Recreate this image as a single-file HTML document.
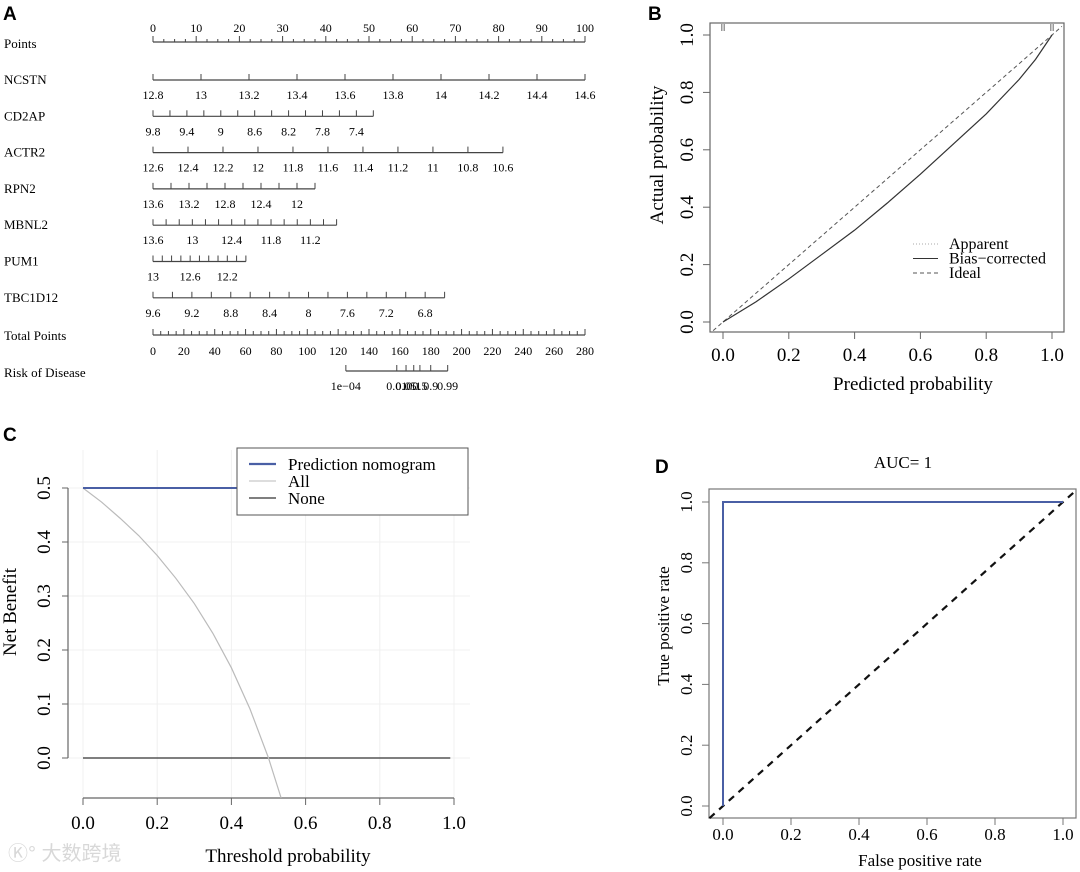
<!DOCTYPE html>
<html><head><meta charset="utf-8"><style>
html,body{margin:0;padding:0;background:#fff;}
svg{display:block;font-family:"Liberation Serif",serif;}
</style></head><body>
<svg id="fig" width="1080" height="872" viewBox="0 0 1080 872" xmlns="http://www.w3.org/2000/svg">
<g id="pA"></g>
<g id="pB"></g>
<g id="pC"></g>
<g id="pD"></g>
<text x="8" y="860" font-family="'Liberation Sans','Noto Sans CJK SC',sans-serif" font-size="20" fill="#d8d8d8">Ⓚ° 大数跨境</text>
</svg>
<script>
// ===== Panel A data =====
const nomoNames = ["NCSTN","CD2AP","ACTR2","RPN2","MBNL2","PUM1","TBC1D12"];
const nomoStart = [12.8, 9.8, 12.6, 13.6, 13.6, 13, 9.6];
const nomoEnd = [14.6, 7.2, 10.6, 11.8, 10.8, 12.0, 6.6];
const nomoStep = [0.2, 0.2, 0.2, 0.2, 0.2, 0.1, 0.2];
const nomoLabelEvery = [1, 2, 1, 2, 3, 4, 2];
const nomoMaxPoints = [100, 51, 81, 37.5, 42.5, 21.5, 67.5];
const totalPointsTicks = [0,20,40,60,80,100,120,140,160,180,200,220,240,260,280];
const riskPoints = [125, 158, 164, 169, 173, 180, 191];
const riskLabels = ["1e\u221204","0.01","0.05","0.1","0.5","0.9","0.99"];
// ===== Panel B data =====
const calX = [0,0.1,0.2,0.3,0.4,0.5,0.6,0.7,0.8,0.9,0.95,1.0];
const calBias = [0,0.07,0.15,0.235,0.32,0.415,0.515,0.62,0.725,0.845,0.915,1.0];
const calTicks = [0,0.2,0.4,0.6,0.8,1.0];
// ===== Panel C data =====
const dcaX = [0,0.05,0.1,0.15,0.2,0.25,0.3,0.35,0.4,0.45,0.5,0.534];
const dcaAll = [0.5,0.474,0.444,0.412,0.375,0.333,0.286,0.231,0.167,0.091,0,-0.074];
const dcaModelX = [0,0.99];
const dcaModel = [0.5,0.5];
const dcaNone = [0,0];
const dcaXTicks = [0,0.2,0.4,0.6,0.8,1.0];
const dcaYTicks = [0,0.1,0.2,0.3,0.4,0.5];
// ===== Panel D data =====
const rocFpr = [0,0,1];
const rocTpr = [0,1,1];
const rocTicks = [0,0.2,0.4,0.6,0.8,1.0];

const NS="http://www.w3.org/2000/svg";
function mk(parent,tag,attrs,txt){const e=document.createElementNS(NS,tag);for(const k in attrs)e.setAttribute(k,attrs[k]);if(txt!==undefined)e.textContent=txt;parent.appendChild(e);return e;}
function fmt(v){return (Math.round(v*10)/10).toFixed(1);}
function fmtN(v){return String(Math.round(v*100)/100);}

// ===== Panel A =====
const A=document.getElementById('pA');
let t=mk(A,'text',{x:3,y:20,'font-family':"'Liberation Sans',sans-serif",'font-weight':'bold','font-size':19});t.textContent='A';

const px0=153, px1=585;
const ptsX=p=>px0+(px1-px0)*p/100;
const totX=p=>px0+(px1-px0)*p/280;
const lineCol='#444';
// Points row
t=mk(A,'text',{x:4,y:48,'font-size':13},'Points');

mk(A,'line',{x1:px0,y1:42,x2:px1,y2:42,stroke:lineCol,'stroke-width':1.2});
for(let p=0;p<=100;p+=2.5){const x=ptsX(p);mk(A,'line',{x1:x,y1:42,x2:x,y2:(p%10===0)?36:39,stroke:lineCol,'stroke-width':1});
 if(p%10===0){t=mk(A,'text',{x:x,y:32,'font-size':12,'text-anchor':'middle'},String(p));
 }}
// variable rows
nomoNames.forEach((nm,i)=>{
 const y=80+i*36.3;
 t=mk(A,'text',{x:4,y:y+4,'font-size':13},nm);
 
 const xEnd=ptsX(nomoMaxPoints[i]);
 const ln=mk(A,'line',{x1:px0,y1:y,x2:xEnd,y2:y,stroke:lineCol,'stroke-width':1.2});
 
 const n=Math.round(Math.abs(nomoEnd[i]-nomoStart[i])/nomoStep[i]);
 const dir=nomoEnd[i]<nomoStart[i]?-1:1;
 for(let k=0;k<=n;k++){const x=px0+(xEnd-px0)*k/n;
  mk(A,'line',{x1:x,y1:y,x2:x,y2:y-6,stroke:lineCol,'stroke-width':1});
  if(k%nomoLabelEvery[i]===0){const v=nomoStart[i]+dir*k*nomoStep[i];
   t=mk(A,'text',{x:x,y:y+19,'font-size':12,'text-anchor':'middle'},fmtN(v));
   }}
});
// Total points
t=mk(A,'text',{x:4,y:340,'font-size':13},'Total Points');

mk(A,'line',{x1:px0,y1:335,x2:px1,y2:335,stroke:lineCol,'stroke-width':1.2});
for(let p=0;p<=280;p+=5){const x=totX(p);mk(A,'line',{x1:x,y1:335,x2:x,y2:(p%20===0)?329:331,stroke:lineCol,'stroke-width':1});}
totalPointsTicks.forEach(p=>{t=mk(A,'text',{x:totX(p),y:355,'font-size':12,'text-anchor':'middle'},String(p));
 });
// Risk
t=mk(A,'text',{x:4,y:377,'font-size':13},'Risk of Disease');

mk(A,'line',{x1:totX(riskPoints[0]),y1:371,x2:totX(riskPoints[riskPoints.length-1]),y2:371,stroke:lineCol,'stroke-width':1.2});
riskPoints.forEach((p,i)=>{const x=totX(p);mk(A,'line',{x1:x,y1:371,x2:x,y2:365,stroke:lineCol,'stroke-width':1});
 t=mk(A,'text',{x:x,y:390,'font-size':12,'text-anchor':'middle'},riskLabels[i]);
 });

// ===== Panel B =====
const B=document.getElementById('pB');
t=mk(B,'text',{x:648,y:20,'font-family':"'Liberation Sans',sans-serif",'font-weight':'bold','font-size':19},'B');

const bx=v=>723+(1052-723)*v, by=v=>322-(322-35)*v;
mk(B,'rect',{x:710,y:23,width:354,height:309,fill:'none',stroke:'#666','stroke-width':1.2});
calTicks.forEach(v=>{
 mk(B,'line',{x1:bx(v),y1:332,x2:bx(v),y2:339,stroke:'#666'});
 t=mk(B,'text',{x:bx(v),y:361,'font-size':19,'text-anchor':'middle'},fmt(v));
 
 mk(B,'line',{x1:710,y1:by(v),x2:703,y2:by(v),stroke:'#666'});
 t=mk(B,'text',{x:0,y:0,'font-size':19,'text-anchor':'middle',transform:`translate(693,${by(v)}) rotate(-90)`},fmt(v));
 
});
t=mk(B,'text',{x:913,y:390,'font-size':19,'text-anchor':'middle'},'Predicted probability');

t=mk(B,'text',{x:0,y:0,'font-size':19,'text-anchor':'middle',transform:'translate(663,155) rotate(-90)'},'Actual probability');

let l=mk(B,'line',{x1:bx(-0.03),y1:by(-0.03),x2:bx(1.03),y2:by(1.03),stroke:'#555','stroke-dasharray':'4,3','stroke-width':1});

let pA2=mk(B,'path',{d:calX.map((x,i)=>(i?'L':'M')+bx(x)+','+by(calBias[i])).join(''),fill:'none',stroke:'#aaa','stroke-dasharray':'1,2','stroke-width':1});

let pB2=mk(B,'path',{d:calX.map((x,i)=>(i?'L':'M')+bx(x)+','+by(calBias[i])).join(''),fill:'none',stroke:'#333','stroke-width':1.2});

[0,1].forEach(v=>{for(let k=-1;k<=1;k++)mk(B,'line',{x1:bx(v)+k*1.5,y1:24,x2:bx(v)+k*1.5,y2:31,stroke:'#999'});});
const legB=[['Apparent','1,2','#aaa'],['Bias\u2212corrected','','#333'],['Ideal','4,3','#555']];
legB.forEach((r,i)=>{const y=244+i*14.5;
 mk(B,'line',{x1:913,y1:y,x2:938,y2:y,stroke:r[2],'stroke-dasharray':r[1]});
 t=mk(B,'text',{x:949,y:y+5,'font-size':16},r[0]);
 });

// ===== Panel C =====
const C=document.getElementById('pC');
t=mk(C,'text',{x:3,y:441,'font-family':"'Liberation Sans',sans-serif",'font-weight':'bold','font-size':19},'C');

const cx=v=>83+(454-83)*v, cy=v=>758-540*v;
dcaXTicks.forEach(v=>mk(C,'line',{x1:cx(v),y1:450,x2:cx(v),y2:798,stroke:'#f0f0f0'}));
dcaYTicks.forEach(v=>mk(C,'line',{x1:68,y1:cy(v),x2:470,y2:cy(v),stroke:'#f0f0f0'}));
mk(C,'line',{x1:68,y1:cy(0),x2:68,y2:cy(0.5),stroke:'#666','stroke-width':1.2});
mk(C,'line',{x1:cx(0),y1:798,x2:cx(1),y2:798,stroke:'#666','stroke-width':1.2});
dcaYTicks.forEach(v=>{mk(C,'line',{x1:62,y1:cy(v),x2:68,y2:cy(v),stroke:'#666'});
 t=mk(C,'text',{x:0,y:0,'font-size':19,'text-anchor':'middle',transform:`translate(50,${cy(v)}) rotate(-90)`},fmt(v));
 });
dcaXTicks.forEach(v=>{mk(C,'line',{x1:cx(v),y1:798,x2:cx(v),y2:805,stroke:'#666'});
 t=mk(C,'text',{x:cx(v),y:829,'font-size':19,'text-anchor':'middle'},fmt(v));
 });
t=mk(C,'text',{x:288,y:862,'font-size':19,'text-anchor':'middle'},'Threshold probability');

t=mk(C,'text',{x:0,y:0,'font-size':19,'text-anchor':'middle',transform:'translate(16,612) rotate(-90)'},'Net Benefit');

let nl=mk(C,'line',{x1:cx(dcaModelX[0]),y1:cy(dcaNone[0]),x2:cx(dcaModelX[1]),y2:cy(dcaNone[1]),stroke:'#555','stroke-width':1.5});

let al=mk(C,'path',{d:dcaX.map((x,i)=>(i?'L':'M')+cx(x)+','+cy(dcaAll[i])).join(''),fill:'none',stroke:'#bbb','stroke-width':1.2});

let ml=mk(C,'line',{x1:cx(dcaModelX[0]),y1:cy(dcaModel[0]),x2:cx(dcaModelX[1]),y2:cy(dcaModel[1]),stroke:'#4a5fa5','stroke-width':2});

let lb=mk(C,'rect',{x:237,y:448,width:231,height:67,fill:'#fff',stroke:'#555','stroke-width':1});

const legC=[['Prediction nomogram','#4a5fa5',2.2],['All','#bbb',1],['None','#555',1.5]];
legC.forEach((r,i)=>{const y=464+i*17;
 mk(C,'line',{x1:249,y1:y,x2:276,y2:y,stroke:r[1],'stroke-width':r[2]});
 t=mk(C,'text',{x:288,y:y+6,'font-size':17},r[0]);
 });

// ===== Panel D =====
const D=document.getElementById('pD');
t=mk(D,'text',{x:655,y:473,'font-family':"'Liberation Sans',sans-serif",'font-weight':'bold','font-size':19},'D');

t=mk(D,'text',{x:903,y:468,'font-size':17,'text-anchor':'middle'},'AUC= 1');

const dx=v=>723+(1063-723)*v, dy=v=>806-(806-502)*v;
mk(D,'rect',{x:709,y:489,width:367,height:329,fill:'none',stroke:'#777','stroke-width':1.2});
rocTicks.forEach(v=>{
 mk(D,'line',{x1:dx(v),y1:818,x2:dx(v),y2:825,stroke:'#777'});
 t=mk(D,'text',{x:dx(v),y:840,'font-size':17,'text-anchor':'middle'},fmt(v));
 
 mk(D,'line',{x1:709,y1:dy(v),x2:702,y2:dy(v),stroke:'#777'});
 t=mk(D,'text',{x:0,y:0,'font-size':17,'text-anchor':'middle',transform:`translate(692,${dy(v)}) rotate(-90)`},fmt(v));
 });
t=mk(D,'text',{x:920,y:866,'font-size':17,'text-anchor':'middle'},'False positive rate');

t=mk(D,'text',{x:0,y:0,'font-size':17,'text-anchor':'middle',transform:'translate(669,626) rotate(-90)'},'True positive rate');

let dl=mk(D,'line',{x1:dx(-0.04),y1:dy(-0.04),x2:dx(1.04),y2:dy(1.04),stroke:'#111','stroke-width':2.2,'stroke-dasharray':'7,6'});

let rl=mk(D,'path',{d:rocFpr.map((x,i)=>(i?'L':'M')+dx(x)+','+dy(rocTpr[i])).join(''),fill:'none',stroke:'#4a5fa5','stroke-width':2});

</script>
</body></html>
